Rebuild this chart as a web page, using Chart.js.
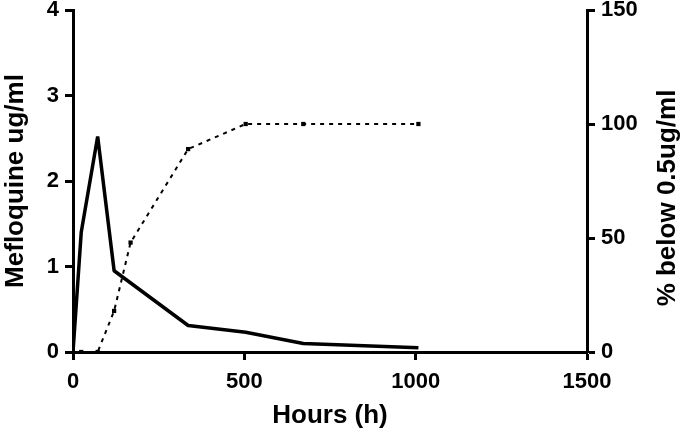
<!DOCTYPE html>
<html>
<head>
<meta charset="utf-8">
<script src="https://cdn.jsdelivr.net/npm/chart.js@4"></script>
<style>
  html, body { margin: 0; padding: 0; background: #fff; }
  #wrap { width: 685px; height: 434px; }
</style>
</head>
<body>
<div id="wrap"><canvas id="myChart"></canvas></div>
<script>
// data
var hoursConc = [0, 24, 72, 120, 336, 504, 672, 1008];
var mefloquine = [0, 1.40, 2.52, 0.95, 0.31, 0.23, 0.10, 0.05];
var hoursPct = [24, 72, 120, 168, 336, 504, 672, 1008];
var pctBelow = [0, 0, 18, 48, 89, 100, 100, 100];
var xTicks = [0, 500, 1000, 1500];
var yTicks = [0, 1, 2, 3, 4];
var y2Ticks = [0, 50, 100, 150];

function pairs(xs, ys) {
    return xs.map(function (x, i) { return { x: x, y: ys[i] }; });
}

var FONT = "'Liberation Sans', Arial, sans-serif";

// right title reads bottom to top, like the left one
var rightTitle = {
    id: 'rightTitle',
    afterDraw: function (chart) {
        var ctx = chart.ctx, a = chart.chartArea;
        ctx.save();
        ctx.translate(668, 198);
        ctx.rotate(-Math.PI / 2);
        ctx.font = 'bold 26px ' + FONT;
        ctx.fillStyle = '#000';
        ctx.textAlign = 'center';
        ctx.textBaseline = 'middle';
        ctx.fillText('% below 0.5ug/ml', 0, 0);
        ctx.restore();
    }
};

function axisStyle(ticks) {
    return {
        border: { display: true, color: '#000', width: 3 },
        grid: { drawOnChartArea: false, drawTicks: true, tickLength: 8, tickWidth: 3, color: '#000' },
        afterBuildTicks: function (s) { s.ticks = ticks.map(function (v) { return { value: v }; }); },
        ticks: {
            color: '#000',
            font: { family: FONT, size: 22, weight: 'bold' },
            padding: 6,
            callback: function (value) { return String(value); }
        }
    };
}

var xAxis = axisStyle(xTicks);
xAxis.type = 'linear';
xAxis.min = 0; xAxis.max = 1500;
xAxis.ticks.padding = 9;
xAxis.ticks.maxRotation = 0;
xAxis.title = { display: true, text: 'Hours (h)', color: '#000', font: { family: FONT, size: 26, weight: 'bold' }, padding: { top: 0, bottom: 3 } };
xAxis.afterFit = function (s) { s.height = 82; s.paddingLeft = 0; s.paddingRight = 0; };

var yAxis = axisStyle(yTicks);
yAxis.position = 'left';
yAxis.min = 0; yAxis.max = 4;
yAxis.title = { display: true, text: 'Mefloquine ug/ml', color: '#000', font: { family: FONT, size: 26, weight: 'bold' }, padding: 0 };
yAxis.afterFit = function (s) { s.width = 73; s.paddingTop = 10; s.paddingBottom = 0; };

var y2Axis = axisStyle(y2Ticks);
y2Axis.position = 'right';
y2Axis.min = 0; y2Axis.max = 150;
y2Axis.afterFit = function (s) { s.width = 98; s.paddingTop = 10; s.paddingBottom = 0; };

new Chart(document.getElementById('myChart'), {
    type: 'line',
    data: {
        datasets: [{
            label: 'Mefloquine',
            data: pairs(hoursConc, mefloquine),
            yAxisID: 'y',
            borderColor: '#000',
            borderWidth: 3.5,
            borderJoinStyle: 'bevel',
            pointRadius: 0,
            fill: false,
            tension: 0
        }, {
            label: '% below',
            data: pairs(hoursPct, pctBelow),
            yAxisID: 'y2',
            borderColor: '#000',
            borderWidth: 2,
            borderDash: [4, 5],
            pointStyle: 'rect',
            pointRadius: 3,
            pointBackgroundColor: '#000',
            pointBorderWidth: 0,
            fill: false,
            tension: 0
        }]
    },
    options: {
        responsive: true,
        maintainAspectRatio: false,
        animation: false,
        layout: { padding: 0 },
        plugins: { legend: { display: false }, tooltip: { enabled: false } },
        scales: { x: xAxis, y: yAxis, y2: y2Axis }
    },
    plugins: [rightTitle]
});
</script>
</body>
</html>
